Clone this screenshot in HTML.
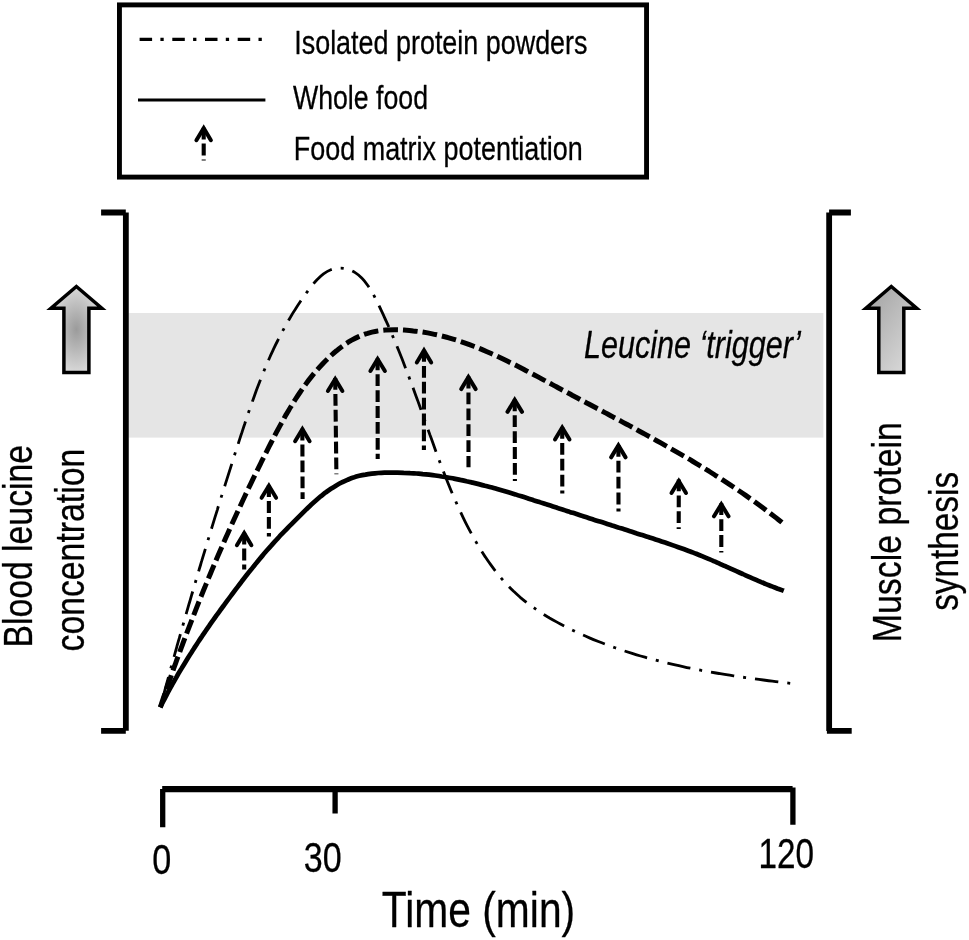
<!DOCTYPE html>
<html lang="en">
<head>
<meta charset="utf-8">
<title>Blood leucine concentration and muscle protein synthesis over time</title>
<style>
html,body{margin:0;padding:0;background:#fff;}
body{width:969px;height:940px;overflow:hidden;}
svg{display:block;}
text{font-family:'Liberation Sans', sans-serif;fill:#000;stroke:#000;stroke-width:0.3px;stroke-linejoin:round;}
.ah{fill:none;stroke:#000;stroke-width:4;stroke-linecap:round;stroke-linejoin:miter;}
.as{fill:none;stroke:#000;stroke-width:4.1;stroke-dasharray:11.8 4.1;}
.ax{fill:none;stroke:#000;stroke-width:5.8;}
</style>
</head>
<body>
<svg width="969" height="940" viewBox="0 0 969 940">
<defs>
<radialGradient id="gl" cx="0.5" cy="0.5" r="0.5" gradientUnits="objectBoundingBox">
<stop offset="0" stop-color="#9b9b9b"/><stop offset="0.5" stop-color="#b9b9b9"/><stop offset="1" stop-color="#d8d8d8"/>
</radialGradient>
<linearGradient id="gr" x1="0.15" y1="0.1" x2="0.85" y2="0.95">
<stop offset="0" stop-color="#a8a8a8"/><stop offset="1" stop-color="#d9d9d9"/>
</linearGradient>
</defs>
<rect width="969" height="940" fill="#fff"/>
<rect x="119.45" y="4.9" width="527.1" height="172.2" fill="none" stroke="#000" stroke-width="4.9"/>
<path d="M139.6 39.3H265.5" fill="none" stroke="#000" stroke-width="3.3" stroke-dasharray="12.5 8.3 3.3 8.6"/>
<path d="M138 100.1H265.4" fill="none" stroke="#000" stroke-width="3"/>
<rect x="128.4" y="313" width="695" height="124.6" fill="#e5e5e5"/>
<path d="M101.1 212.5H125.8M125.85 212.5V730.8M101.1 730.85H125.8" class="ax"/>
<path d="M829.1 212.5H850.9M829.15 212.5V730.9M826.9 730.9H851.7" class="ax"/>
<path d="M162.2 789.1H792.6" fill="none" stroke="#000" stroke-width="6.2"/>
<path d="M162.7 789.1V827.2M335.1 789.1V813.6M792.9 787.4V824.8" fill="none" stroke="#000" stroke-width="5.3"/>
<path d="M790.2 683.3C788.7 683.1 784.2 682.6 781.3 682.2C778.3 681.9 775.3 681.5 772.3 681.1C769.4 680.8 766.4 680.4 763.4 680.0C760.4 679.6 757.5 679.2 754.5 678.8C751.5 678.4 748.6 678.0 745.6 677.6C742.7 677.2 739.7 676.7 736.7 676.3C733.8 675.8 730.8 675.4 727.9 674.9C724.9 674.5 722.0 674.0 719.0 673.5C716.1 673.0 713.1 672.5 710.2 672.0C707.3 671.4 704.3 670.9 701.4 670.4C698.5 669.8 695.5 669.2 692.6 668.7C689.7 668.1 686.8 667.5 683.9 666.8C681.0 666.2 678.1 665.6 675.2 664.9C672.3 664.3 669.4 663.6 666.5 662.9C663.6 662.2 660.7 661.5 657.8 660.7C654.9 660.0 652.1 659.2 649.2 658.4C646.3 657.6 643.5 656.8 640.6 656.0C637.8 655.2 634.9 654.3 632.1 653.4C629.2 652.5 626.4 651.6 623.6 650.7C620.8 649.8 617.9 648.8 615.1 647.8C612.3 646.8 609.5 645.8 606.7 644.7C603.9 643.7 601.1 642.6 598.4 641.5C595.6 640.4 592.8 639.3 590.0 638.1C587.3 636.9 584.5 635.7 581.8 634.5C579.0 633.3 576.3 632.0 573.6 630.7C570.9 629.4 568.2 628.0 565.5 626.7C562.8 625.3 560.1 623.9 557.4 622.4C554.8 621.0 552.1 619.5 549.5 618.0C546.9 616.4 544.4 614.9 541.8 613.2C539.3 611.6 536.8 609.9 534.4 608.2C531.9 606.5 529.5 604.7 527.1 602.9C524.8 601.1 522.5 599.2 520.2 597.3C517.9 595.3 515.8 593.3 513.6 591.3C511.5 589.3 509.4 587.2 507.4 585.0C505.3 582.9 503.4 580.7 501.4 578.4C499.5 576.2 497.6 573.9 495.8 571.5C494.0 569.2 492.2 566.8 490.5 564.4C488.7 562.0 487.0 559.6 485.4 557.1C483.7 554.6 482.1 552.1 480.6 549.6C479.0 547.1 477.5 544.5 476.0 541.9C474.5 539.3 473.0 536.7 471.6 534.1C470.2 531.5 468.8 528.8 467.4 526.2C466.0 523.5 464.7 520.8 463.4 518.1C462.1 515.4 460.8 512.7 459.6 510.0C458.3 507.3 457.1 504.6 455.9 501.8C454.7 499.1 453.5 496.4 452.3 493.6C451.2 490.8 450.0 488.1 448.9 485.3C447.8 482.5 446.7 479.7 445.6 476.9C444.5 474.2 443.4 471.4 442.3 468.6C441.2 465.8 440.2 463.0 439.1 460.1C438.1 457.3 437.1 454.5 436.0 451.7C435.0 448.9 434.0 446.1 433.0 443.3C432.0 440.4 431.0 437.6 429.9 434.8C428.9 432.0 427.9 429.2 426.9 426.4C425.9 423.6 424.9 420.7 423.9 417.9C422.9 415.1 421.9 412.3 420.9 409.5C419.9 406.7 418.9 403.9 417.9 401.1C416.9 398.3 415.8 395.5 414.8 392.7C413.8 389.9 412.8 387.1 411.7 384.3C410.7 381.6 409.6 378.8 408.6 376.0C407.5 373.2 406.5 370.4 405.4 367.7C404.3 364.9 403.3 362.1 402.2 359.3C401.1 356.6 400.0 353.8 398.9 351.0C397.8 348.3 396.6 345.5 395.5 342.8C394.3 340.0 393.2 337.3 392.0 334.5C390.8 331.8 389.7 329.0 388.5 326.3C387.3 323.5 386.0 320.8 384.8 318.1C383.6 315.3 382.3 312.6 381.0 309.9C379.7 307.2 378.5 304.5 377.1 301.7C375.7 299.0 374.4 296.2 372.8 293.5C371.3 290.8 369.6 288.0 367.8 285.5C366.0 282.9 364.1 280.4 362.0 278.3C359.9 276.1 357.7 274.1 355.2 272.6C352.8 271.0 350.1 269.8 347.3 269.0C344.6 268.3 341.7 267.9 338.9 268.1C336.1 268.2 333.3 268.7 330.8 269.7C328.2 270.7 325.8 272.2 323.5 273.8C321.2 275.5 319.1 277.6 317.0 279.7C314.9 281.9 313.0 284.4 311.1 286.8C309.1 289.2 307.3 291.7 305.5 294.2C303.7 296.7 301.9 299.3 300.2 301.8C298.5 304.3 296.8 306.9 295.2 309.5C293.5 312.0 291.9 314.6 290.4 317.2C288.8 319.8 287.3 322.4 285.9 325.1C284.4 327.7 283.0 330.3 281.6 333.0C280.2 335.6 278.8 338.3 277.5 341.0C276.1 343.7 274.8 346.4 273.5 349.1C272.3 351.8 271.0 354.5 269.8 357.2C268.6 359.9 267.4 362.7 266.3 365.4C265.1 368.1 264.0 370.9 262.8 373.6C261.7 376.4 260.6 379.2 259.6 381.9C258.5 384.7 257.4 387.5 256.4 390.3C255.4 393.1 254.4 395.9 253.4 398.7C252.4 401.5 251.4 404.3 250.4 407.1C249.4 409.9 248.4 412.7 247.5 415.5C246.5 418.4 245.6 421.2 244.7 424.0C243.7 426.8 242.8 429.7 241.9 432.5C240.9 435.3 240.0 438.2 239.1 441.0C238.2 443.8 237.3 446.7 236.4 449.5C235.4 452.3 234.5 455.2 233.6 458.0C232.7 460.9 231.8 463.7 230.9 466.6C230.0 469.4 229.1 472.2 228.2 475.1C227.3 477.9 226.4 480.8 225.5 483.6C224.6 486.5 223.7 489.3 222.8 492.2C221.9 495.0 221.0 497.9 220.1 500.7C219.2 503.6 218.3 506.4 217.5 509.3C216.6 512.1 215.7 515.0 214.8 517.8C213.9 520.7 213.1 523.5 212.2 526.4C211.3 529.3 210.4 532.1 209.6 535.0C208.7 537.8 207.8 540.7 207.0 543.6C206.1 546.4 205.2 549.3 204.4 552.1C203.5 555.0 202.6 557.9 201.8 560.7C200.9 563.6 200.1 566.5 199.2 569.3C198.4 572.2 197.5 575.1 196.7 577.9C195.8 580.8 195.0 583.7 194.1 586.5C193.3 589.4 192.5 592.3 191.6 595.1C190.8 598.0 190.0 600.9 189.1 603.7C188.3 606.6 187.5 609.5 186.6 612.4C185.8 615.2 185.0 618.1 184.2 621.0C183.3 623.9 182.5 626.7 181.7 629.6C180.9 632.5 180.1 635.3 179.3 638.2C178.4 641.1 177.6 644.0 176.8 646.8C176.0 649.7 175.2 652.6 174.4 655.5C173.6 658.4 172.8 661.2 172.0 664.1C171.2 667.0 170.4 669.9 169.6 672.7C168.9 675.6 168.1 678.5 167.3 681.4C166.5 684.3 165.7 687.1 164.9 690.0C164.2 692.9 163.4 695.8 162.6 698.7C161.8 701.5 160.7 705.9 160.3 707.3" fill="none" stroke="#000" stroke-width="2.8" stroke-dasharray="23.5 9 3 9" stroke-dashoffset="32.5"/>
<path d="M782.4 522.8C781.2 521.8 777.6 519.0 775.2 517.1C772.7 515.2 770.3 513.3 767.9 511.5C765.4 509.6 763.0 507.8 760.5 506.0C758.1 504.2 755.6 502.4 753.1 500.6C750.6 498.9 748.1 497.1 745.7 495.4C743.2 493.6 740.7 491.9 738.1 490.2C735.6 488.5 733.1 486.8 730.6 485.1C728.1 483.5 725.5 481.8 723.0 480.2C720.4 478.5 717.9 476.9 715.3 475.3C712.8 473.6 710.2 472.0 707.7 470.4C705.1 468.9 702.5 467.3 699.9 465.7C697.3 464.1 694.8 462.6 692.2 461.0C689.6 459.5 687.0 457.9 684.4 456.4C681.8 454.9 679.1 453.4 676.5 451.9C673.9 450.4 671.3 448.9 668.7 447.4C666.0 445.9 663.4 444.4 660.8 442.9C658.1 441.4 655.5 440.0 652.8 438.5C650.2 437.0 647.6 435.6 644.9 434.1C642.2 432.7 639.6 431.2 636.9 429.8C634.3 428.3 631.6 426.9 628.9 425.4C626.3 424.0 623.6 422.6 620.9 421.1C618.3 419.7 615.6 418.3 612.9 416.9C610.2 415.4 607.5 414.0 604.9 412.6C602.2 411.2 599.5 409.7 596.8 408.3C594.1 406.9 591.4 405.5 588.8 404.0C586.1 402.6 583.4 401.2 580.7 399.8C578.0 398.3 575.3 396.9 572.6 395.5C569.9 394.0 567.2 392.6 564.5 391.2C561.8 389.7 559.1 388.3 556.4 386.8C553.7 385.4 551.0 383.9 548.3 382.5C545.7 381.0 543.0 379.6 540.3 378.1C537.6 376.7 534.9 375.2 532.1 373.8C529.4 372.4 526.7 370.9 524.0 369.5C521.3 368.1 518.6 366.7 515.9 365.3C513.1 364.0 510.4 362.6 507.7 361.3C504.9 359.9 502.2 358.6 499.4 357.3C496.7 356.0 493.9 354.7 491.2 353.5C488.4 352.3 485.6 351.1 482.8 349.9C480.0 348.7 477.2 347.6 474.4 346.5C471.6 345.4 468.8 344.3 465.9 343.3C463.1 342.3 460.3 341.4 457.4 340.4C454.5 339.5 451.7 338.7 448.8 337.8C445.9 337.0 443.0 336.3 440.0 335.5C437.1 334.8 434.2 334.2 431.2 333.6C428.3 333.0 425.3 332.5 422.3 332.0C419.3 331.6 416.3 331.2 413.3 330.9C410.2 330.5 407.2 330.3 404.1 330.1C401.0 329.9 397.9 329.8 394.8 329.8C391.7 329.8 388.6 329.9 385.5 330.1C382.5 330.3 379.4 330.7 376.4 331.2C373.4 331.7 370.5 332.4 367.6 333.3C364.7 334.1 361.9 335.2 359.2 336.4C356.5 337.6 353.8 339.0 351.2 340.4C348.7 341.9 346.1 343.5 343.7 345.3C341.2 347.0 338.8 348.8 336.5 350.8C334.2 352.7 331.9 354.7 329.7 356.8C327.5 358.9 325.3 361.0 323.2 363.2C321.1 365.4 319.1 367.6 317.1 369.9C315.1 372.2 313.2 374.5 311.3 376.9C309.4 379.2 307.6 381.6 305.8 384.1C304.0 386.5 302.3 389.0 300.6 391.5C298.9 394.0 297.2 396.5 295.6 399.0C293.9 401.6 292.3 404.2 290.8 406.8C289.2 409.4 287.7 412.0 286.1 414.6C284.6 417.3 283.2 419.9 281.7 422.6C280.2 425.3 278.8 428.0 277.3 430.7C275.9 433.4 274.5 436.1 273.1 438.8C271.7 441.5 270.3 444.2 268.9 446.9C267.5 449.7 266.2 452.4 264.8 455.1C263.4 457.8 262.1 460.6 260.7 463.3C259.4 466.0 258.0 468.8 256.7 471.5C255.3 474.2 254.0 477.0 252.7 479.7C251.4 482.4 250.0 485.2 248.7 487.9C247.4 490.7 246.1 493.4 244.8 496.2C243.5 498.9 242.2 501.7 241.0 504.4C239.7 507.2 238.4 509.9 237.1 512.7C235.9 515.4 234.6 518.2 233.3 521.0C232.1 523.7 230.8 526.5 229.6 529.3C228.4 532.0 227.1 534.8 225.9 537.6C224.7 540.3 223.5 543.1 222.3 545.9C221.0 548.7 219.8 551.5 218.6 554.2C217.4 557.0 216.2 559.8 215.1 562.6C213.9 565.4 212.7 568.2 211.5 571.0C210.4 573.8 209.2 576.6 208.0 579.4C206.9 582.2 205.7 585.0 204.6 587.8C203.4 590.6 202.3 593.4 201.2 596.2C200.0 599.0 198.9 601.8 197.8 604.6C196.7 607.4 195.6 610.3 194.5 613.1C193.4 615.9 192.3 618.7 191.2 621.6C190.1 624.4 189.0 627.2 187.9 630.1C186.8 632.9 185.8 635.7 184.7 638.6C183.6 641.4 182.6 644.2 181.5 647.1C180.5 649.9 179.4 652.8 178.4 655.6C177.3 658.5 176.3 661.3 175.3 664.2C174.2 667.1 173.2 669.9 172.2 672.8C171.2 675.6 170.2 678.5 169.2 681.4C168.2 684.3 167.2 687.1 166.2 690.0C165.2 692.9 164.2 695.8 163.2 698.6C162.2 701.5 160.8 705.9 160.3 707.3" fill="none" stroke="#000" stroke-width="5" stroke-dasharray="14.7 5" stroke-dashoffset="18.85"/>
<path d="M160.3 707.3C160.8 706.4 162.2 703.5 163.1 701.6C164.1 699.7 165.1 697.9 166.1 696.0C167.0 694.1 168.0 692.2 169.0 690.4C170.0 688.5 171.0 686.7 172.1 684.8C173.1 683.0 174.1 681.1 175.2 679.3C176.2 677.5 177.3 675.6 178.3 673.8C179.4 672.0 180.5 670.2 181.6 668.4C182.7 666.5 183.8 664.7 184.9 662.9C186.0 661.1 187.1 659.3 188.2 657.5C189.3 655.7 190.4 654.0 191.6 652.2C192.7 650.4 193.9 648.6 195.0 646.9C196.2 645.1 197.3 643.3 198.5 641.5C199.7 639.8 200.8 638.0 202.0 636.3C203.2 634.5 204.4 632.8 205.6 631.0C206.8 629.3 208.0 627.5 209.2 625.8C210.4 624.1 211.6 622.3 212.8 620.6C214.1 618.9 215.3 617.2 216.5 615.4C217.8 613.7 219.0 612.0 220.2 610.3C221.5 608.6 222.7 606.9 224.0 605.2C225.2 603.5 226.5 601.8 227.7 600.1C229.0 598.4 230.3 596.7 231.5 595.0C232.8 593.3 234.1 591.6 235.3 589.9C236.6 588.2 237.9 586.5 239.2 584.8C240.5 583.2 241.7 581.5 243.0 579.8C244.3 578.1 245.6 576.5 246.9 574.8C248.2 573.1 249.5 571.5 250.9 569.8C252.2 568.2 253.5 566.5 254.8 564.9C256.1 563.2 257.5 561.6 258.8 560.0C260.2 558.3 261.5 556.7 262.9 555.1C264.2 553.5 265.6 551.9 267.0 550.3C268.4 548.7 269.8 547.1 271.2 545.6C272.6 544.0 274.0 542.4 275.4 540.9C276.8 539.3 278.3 537.8 279.7 536.2C281.2 534.7 282.6 533.2 284.1 531.7C285.6 530.2 287.1 528.6 288.5 527.1C290.0 525.6 291.5 524.2 293.0 522.7C294.5 521.2 296.0 519.7 297.5 518.2C299.0 516.7 300.5 515.2 302.0 513.7C303.5 512.2 305.0 510.7 306.5 509.2C308.1 507.7 309.6 506.2 311.1 504.8C312.7 503.3 314.3 501.9 315.9 500.5C317.5 499.1 319.1 497.7 320.7 496.3C322.4 495.0 324.0 493.7 325.7 492.4C327.4 491.2 329.2 489.9 330.9 488.8C332.7 487.6 334.5 486.5 336.3 485.4C338.1 484.3 339.9 483.3 341.8 482.4C343.6 481.4 345.5 480.6 347.4 479.8C349.4 479.0 351.3 478.2 353.3 477.6C355.3 476.9 357.3 476.3 359.3 475.8C361.3 475.3 363.4 474.9 365.5 474.6C367.5 474.2 369.6 473.9 371.8 473.6C373.9 473.4 376.0 473.2 378.1 473.0C380.2 472.9 382.4 472.8 384.5 472.7C386.7 472.6 388.8 472.6 390.9 472.6C393.1 472.5 395.2 472.6 397.3 472.6C399.5 472.6 401.6 472.7 403.7 472.8C405.8 472.8 408.0 472.9 410.1 473.1C412.2 473.2 414.3 473.3 416.4 473.5C418.5 473.7 420.6 473.8 422.7 474.1C424.8 474.3 426.9 474.5 429.0 474.7C431.1 475.0 433.2 475.3 435.3 475.5C437.4 475.8 439.5 476.1 441.6 476.5C443.7 476.8 445.7 477.1 447.8 477.5C449.9 477.9 452.0 478.2 454.0 478.6C456.1 479.0 458.2 479.4 460.2 479.9C462.3 480.3 464.4 480.7 466.4 481.2C468.5 481.6 470.5 482.1 472.6 482.6C474.7 483.1 476.7 483.6 478.8 484.1C480.8 484.6 482.8 485.1 484.9 485.7C486.9 486.2 489.0 486.8 491.0 487.3C493.1 487.9 495.1 488.4 497.1 489.0C499.2 489.6 501.2 490.2 503.2 490.8C505.3 491.4 507.3 492.0 509.3 492.6C511.3 493.2 513.4 493.8 515.4 494.4C517.4 495.1 519.4 495.7 521.5 496.3C523.5 497.0 525.5 497.6 527.5 498.2C529.5 498.9 531.6 499.5 533.6 500.2C535.6 500.8 537.6 501.5 539.6 502.1C541.6 502.8 543.6 503.4 545.7 504.1C547.7 504.7 549.7 505.4 551.7 506.0C553.7 506.7 555.7 507.3 557.7 508.0C559.7 508.6 561.8 509.3 563.8 509.9C565.8 510.6 567.8 511.2 569.8 511.9C571.8 512.5 573.8 513.2 575.8 513.8C577.8 514.5 579.8 515.1 581.9 515.8C583.9 516.4 585.9 517.1 587.9 517.7C589.9 518.4 591.9 519.0 593.9 519.7C595.9 520.3 597.9 521.0 599.9 521.6C602.0 522.3 604.0 522.9 606.0 523.5C608.0 524.2 610.0 524.8 612.0 525.5C614.0 526.1 616.0 526.8 618.1 527.4C620.1 528.0 622.1 528.7 624.1 529.3C626.1 530.0 628.1 530.6 630.1 531.2C632.2 531.9 634.2 532.5 636.2 533.2C638.2 533.8 640.2 534.5 642.2 535.1C644.3 535.7 646.3 536.4 648.3 537.0C650.3 537.7 652.3 538.3 654.3 539.0C656.3 539.7 658.3 540.3 660.3 541.0C662.3 541.7 664.4 542.3 666.4 543.0C668.4 543.7 670.4 544.4 672.4 545.1C674.4 545.8 676.3 546.5 678.3 547.2C680.3 547.9 682.3 548.6 684.3 549.3C686.3 550.1 688.3 550.8 690.2 551.5C692.2 552.3 694.2 553.0 696.2 553.8C698.1 554.6 700.1 555.4 702.0 556.2C704.0 557.0 706.0 557.8 707.9 558.6C709.8 559.4 711.8 560.2 713.7 561.1C715.7 561.9 717.6 562.8 719.5 563.6C721.5 564.5 723.4 565.3 725.3 566.2C727.3 567.1 729.2 567.9 731.1 568.8C733.1 569.7 735.0 570.6 736.9 571.4C738.8 572.3 740.8 573.2 742.7 574.0C744.6 574.9 746.6 575.7 748.5 576.6C750.4 577.5 752.4 578.3 754.3 579.1C756.2 580.0 758.2 580.8 760.1 581.6C762.1 582.5 764.0 583.3 766.0 584.1C768.0 584.9 769.9 585.6 771.9 586.4C773.9 587.2 775.8 587.9 777.8 588.7C779.8 589.4 782.8 590.4 783.8 590.8" fill="none" stroke="#000" stroke-width="4.7"/>
<path d="M236.9 545.2L244.2 533.2L251.4 545.2" class="ah"/><path d="M244.20 532.70L244.20 569.5" class="as"/>
<path d="M261.6 497.8L268.9 485.8L276.1 497.8" class="ah"/><path d="M268.85 485.20L268.90 536.4" class="as"/>
<path d="M295.1 441.2L302.4 429.2L309.6 441.2" class="ah"/><path d="M302.35 428.70L302.60 498.9" class="as"/>
<path d="M327.9 391.0L335.2 379.0L342.4 391.0" class="ah"/><path d="M335.20 378.05L336.40 474.3" class="as"/>
<path d="M370.4 371.0L377.6 359.0L384.9 371.0" class="ah"/><path d="M377.60 358.40L377.70 458.9" class="as"/>
<path d="M416.8 362.5L424.0 350.5L431.2 362.5" class="ah"/><path d="M424.00 350.00L423.90 450.0" class="as"/>
<path d="M461.2 389.1L468.4 377.1L475.7 389.1" class="ah"/><path d="M468.45 376.60L468.50 467.2" class="as"/>
<path d="M507.5 411.9L514.7 399.9L522.0 411.9" class="ah"/><path d="M514.70 399.40L514.90 480.9" class="as"/>
<path d="M555.0 439.5L562.2 427.5L569.5 439.5" class="ah"/><path d="M562.20 427.00L562.30 493.6" class="as"/>
<path d="M611.1 457.4L618.4 445.4L625.6 457.4" class="ah"/><path d="M618.40 444.90L618.50 511.4" class="as"/>
<path d="M671.5 493.0L678.8 481.0L686.0 493.0" class="ah"/><path d="M678.80 479.50L678.70 528.9" class="as"/>
<path d="M714.0 516.3L721.3 504.3L728.5 516.3" class="ah"/><path d="M721.30 503.30L721.30 552.5" class="as"/>
<path d="M196.4 140.2L203.7 128.2L210.9 140.2" class="ah"/><path d="M203.70 127.70L203.70 160.4" class="as"/>
<path d="M76.4 286.5L101.8 308.2H88.9V372.4H63.9V308.2H51.0Z" fill="url(#gl)" stroke="#000" stroke-width="3.5" stroke-linejoin="miter"/>
<path d="M891.3 286.5L916.7 308.2H903.8V372.4H878.8V308.2H865.9Z" fill="url(#gr)" stroke="#000" stroke-width="3.5" stroke-linejoin="miter"/>
<text transform="translate(294.22 54.1) scale(0.8109 1)" font-size="33.2">Isolated protein powders</text>
<text transform="translate(292.92 108.85) scale(0.8047 1)" font-size="33.2">Whole food</text>
<text transform="translate(293.84 160.0) scale(0.8116 1)" font-size="33.2">Food matrix potentiation</text>
<text transform="translate(583.93 357.7) scale(0.8002 1)" font-size="38.2" font-style="italic">Leucine ‘trigger’</text>
<text transform="translate(152.19 873.7) scale(0.8076 1)" font-size="42.3">0</text>
<text transform="translate(303.73 871.8) scale(0.8055 1)" font-size="42.3">30</text>
<text transform="translate(758.38 867.9) scale(0.7866 1)" font-size="42.3">120</text>
<text transform="translate(381.86 926.9) scale(0.8093 1)" font-size="50.4">Time (min)</text>
<text transform="translate(32.2 647.6) rotate(-90) scale(0.8234 1)" font-size="41.0">Blood leucine</text>
<text transform="translate(83.8 651.5) rotate(-90) scale(0.8242 1)" font-size="41.0">concentration</text>
<text transform="translate(901.2 642.18) rotate(-90) scale(0.8257 1)" font-size="41.0">Muscle protein</text>
<text transform="translate(958.2 610.86) rotate(-90) scale(0.8133 1)" font-size="41.0">synthesis</text>
</svg>
</body>
</html>
